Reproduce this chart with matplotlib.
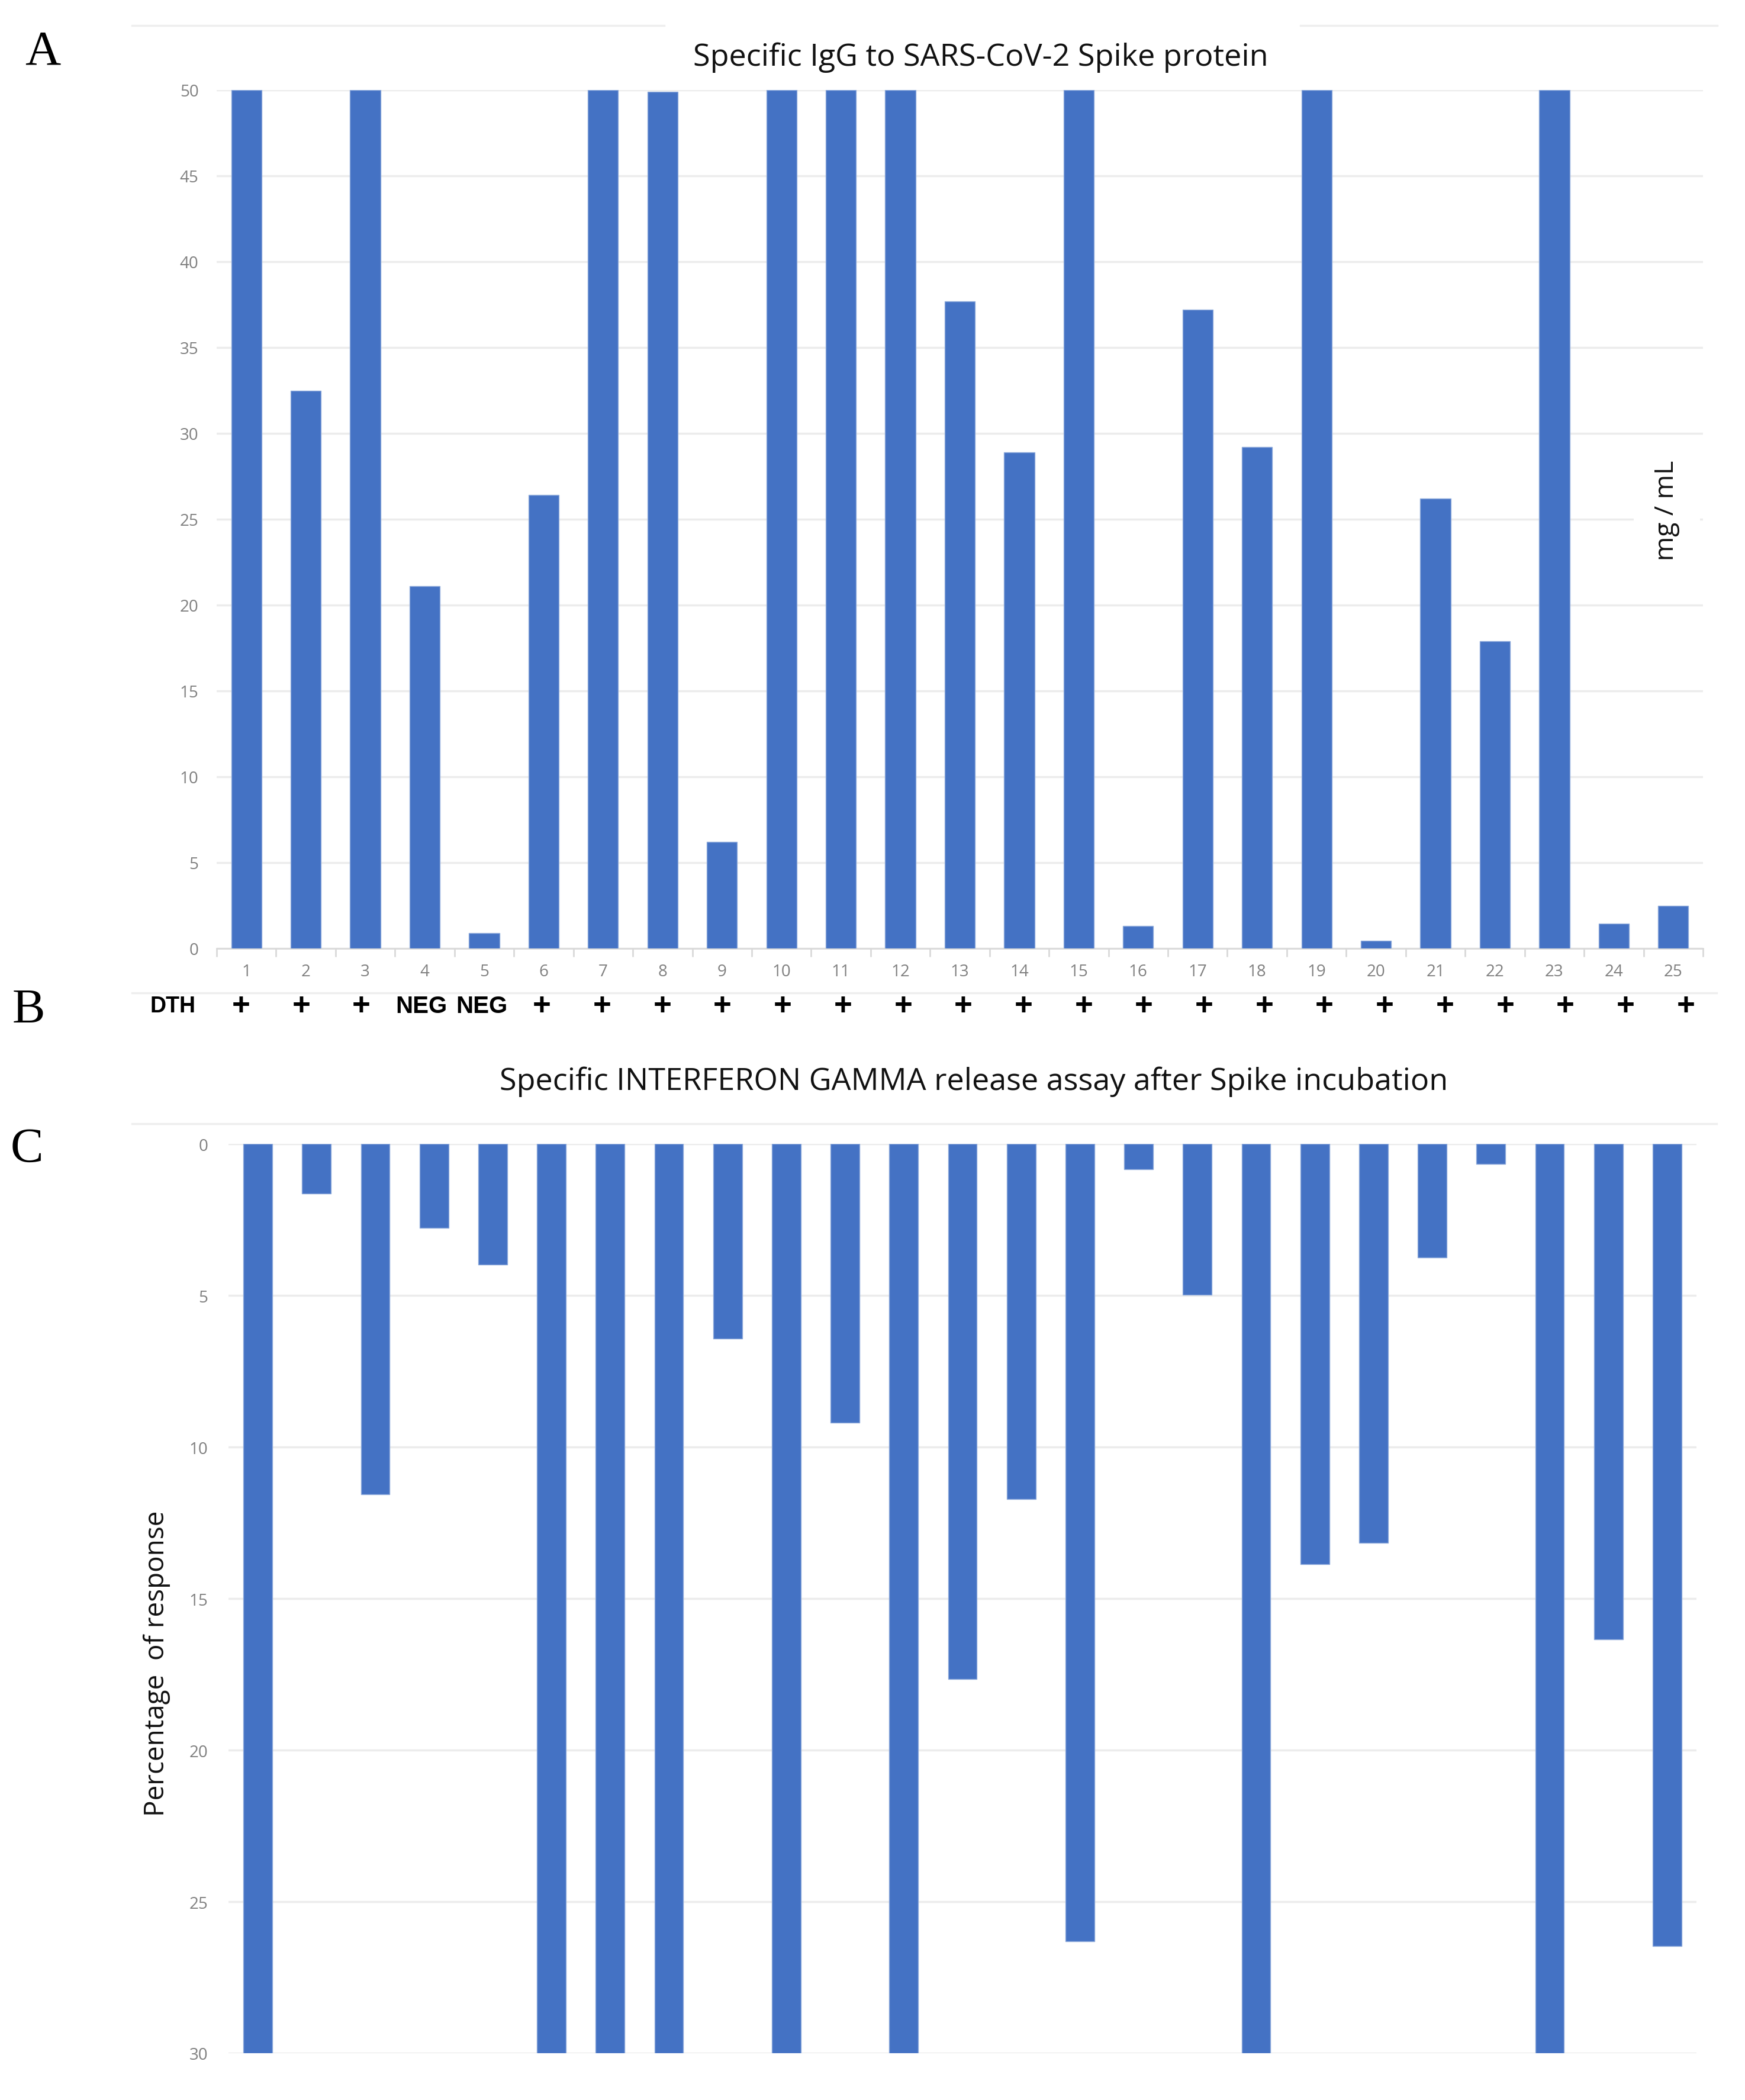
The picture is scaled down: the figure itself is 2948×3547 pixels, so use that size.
import numpy as np
import matplotlib.pyplot as plt
from matplotlib.lines import Line2D

#%%
# data
patients = [str(i) for i in range(1, 26)]
igg = [50, 32.5, 50, 21.1, 0.9, 26.4, 50, 49.9, 6.2, 50, 50, 50, 37.7,
       28.9, 50, 1.3, 37.2, 29.2, 50, 0.45, 26.2, 17.9, 50, 1.45, 2.5]   # mg / mL
ifn = [30, 1.64, 11.56, 2.77, 3.98, 30, 30, 30, 6.43, 30, 9.2, 30, 17.66,
       11.72, 26.3, 0.84, 4.98, 30, 13.87, 13.16, 3.75, 0.66, 30, 16.35, 26.46]  # % of response
dth = ['+', '+', '+', 'NEG', 'NEG'] + ['+'] * 20

title_top = "Specific IgG to SARS-CoV-2 Spike protein"
title_bot = "Specific INTERFERON GAMMA release assay after Spike incubation"

#%%
W, H = 2948, 3548
blue = '#4472C4'
grid = '#ececec'
tickgray = '#808080'
sans = ['Open Sans', 'DejaVu Sans']

def fx(px):
  return px / W

def fy(py):
  return 1 - py / H

fig = plt.figure(figsize=(W / 100, H / 100), dpi=100)
fig.patch.set_facecolor('white')

# top panel: IgG
ax1 = fig.add_axes([fx(366), fy(1603), (2877 - 366) / W, (1603 - 153) / H])
x = np.arange(len(patients))
ax1.bar(x, igg, width=0.51, color=blue, edgecolor='#8eaadb', linewidth=1.0, zorder=3)
ax1.set_xlim(-0.5, 24.5)
ax1.set_ylim(0, 50)
ax1.set_yticks(range(0, 51, 5))
ax1.set_xticks(x, patients)
ax1.set_xticks(np.arange(-0.5, 25, 1), minor=True)
ax1.grid(axis='y', color=grid, lw=2.5)
ax1.set_axisbelow(True)
for s in ['left', 'right', 'top']:
  ax1.spines[s].set_visible(False)
ax1.spines['bottom'].set_color('#d9d9d9')
ax1.spines['bottom'].set_linewidth(2)
ax1.tick_params(axis='y', length=0, pad=22, labelsize=20, labelcolor=tickgray)
ax1.tick_params(axis='x', which='major', length=0, pad=18, labelsize=20, labelcolor=tickgray)
ax1.tick_params(axis='x', which='minor', length=10, width=2, color='#d9d9d9')
for lab in ax1.get_xticklabels() + ax1.get_yticklabels():
  lab.set_family(sans)

# bottom panel: interferon gamma (axis points down)
ax2 = fig.add_axes([fx(386), fy(3469), (2866 - 386) / W, (3469 - 1933) / H])
ax2.bar(x, ifn, width=0.49, color=blue, edgecolor='#8eaadb', linewidth=1.0, zorder=3)
ax2.set_xlim(-0.5, 24.5)
ax2.set_ylim(30, 0)
ax2.set_yticks(range(0, 31, 5))
ax2.set_xticks([])
ax2.grid(axis='y', color=grid, lw=2.5)
ax2.set_axisbelow(True)
for s in ax2.spines.values():
  s.set_visible(False)
ax2.tick_params(axis='y', length=0, pad=25, labelsize=20, labelcolor=tickgray)
for lab in ax2.get_yticklabels():
  lab.set_family(sans)

#%%
# texts
fig.text(fx(1657), fy(97), title_top, ha='center', va='center', fontsize=37.5,
         family=sans, color='#111111')
fig.text(fx(1645), fy(1827), title_bot, ha='center', va='center', fontsize=37.5,
         family=sans, color='#111111')
fig.text(fx(2816), fy(862), 'mg / mL', rotation=90, ha='center', va='center',
         fontsize=32, family=sans, color='#111111',
         bbox=dict(facecolor='white', edgecolor='none', pad=24))
fig.text(fx(265), fy(2810), 'Percentage  of response', rotation=90, ha='center',
         va='center', fontsize=33, family=sans, color='#111111')

fig.text(fx(292), fy(1700), 'DTH', ha='center', va='center', fontsize=27,
         family='Liberation Sans', weight='bold')
for i, lab in enumerate(dth):
  fs = 38 if lab == '+' else 29
  fig.text(fx(407 + 101.7 * i), fy(1700), lab, ha='center', va='center',
           fontsize=fs, family='Liberation Sans', weight='bold')

for letter, px, py in [('A', 72, 89), ('B', 48, 1707), ('C', 45, 1942)]:
  fig.text(fx(px), fy(py), letter, ha='center', va='center', fontsize=60,
           family='Liberation Serif')

# faint frame lines left over from the screenshots
for x0, x1, yy in [(223, 1122, 44), (2197, 2901, 44), (223, 2900, 1678), (223, 2900, 1899)]:
  fig.add_artist(Line2D([fx(x0), fx(x1)], [fy(yy), fy(yy)], color='#eeeeee', lw=2.5))

fig.savefig('out.png', dpi=100, facecolor='white')
